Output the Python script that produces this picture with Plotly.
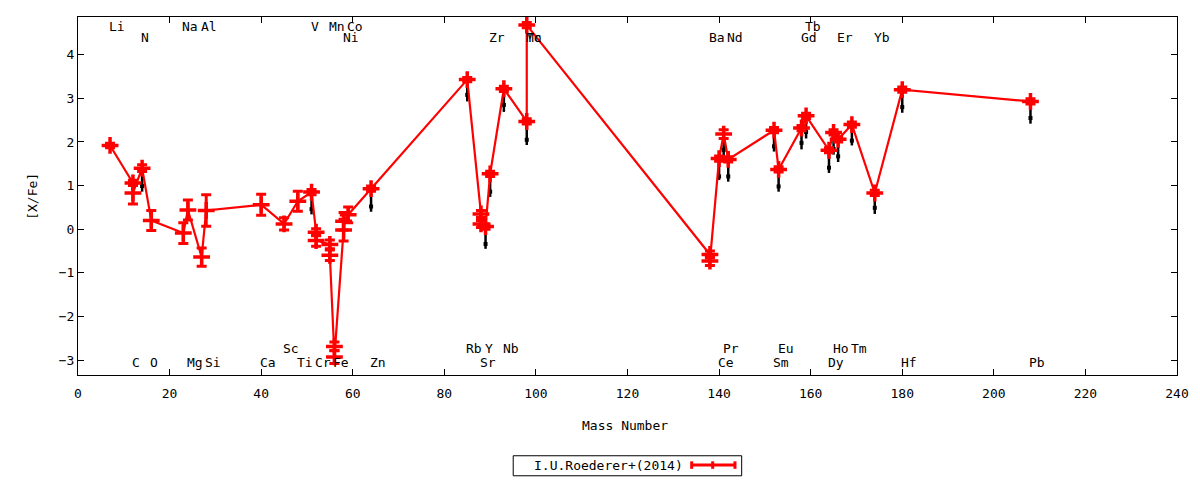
import plotly.graph_objects as go

font_family = 'DejaVu Sans Mono'
font_size = 13

# red series: I.U.Roederer+(2014)
red_element = ['Li', 'C', 'C', 'N', 'O', 'Na', 'Mg', 'Al', 'Si', 'Ca', 'Sc', 'Ti', 'V',
               'Cr', 'Cr', 'Mn', 'Mn', 'Fe', 'Fe', 'Ni', 'Ni', 'Co', 'Zn',
               'Rb', 'Sr', 'Sr', 'Y', 'Zr', 'Nb', 'Mo', 'Tc',
               'Ba', 'Ba', 'Ce', 'Pr', 'Nd', 'Sm', 'Eu', 'Gd', 'Tb', 'Dy', 'Ho', 'Er', 'Tm',
               'Yb', 'Hf', 'Pb']
red_mass = [7, 12, 12, 14, 16, 23, 24, 27, 28, 40, 45, 48, 51,
            52, 52, 55, 55, 56, 56, 58, 58, 59, 64,
            85, 88, 88, 89, 90, 93, 98, 98,
            138, 138, 140, 141, 142, 152, 153, 158, 159, 164, 165, 166, 169,
            174, 180, 208]
red_value = [1.92, 1.06, 0.83, 1.40, 0.20, -0.09, 0.44, -0.64, 0.43, 0.56, 0.12, 0.64, 0.85,
             -0.07, -0.26, -0.35, -0.60, -2.69, -2.93, -0.02, 0.18, 0.33, 0.93,
             3.43, 0.35, 0.12, 0.06, 1.27, 3.22, 2.47, 4.68,
             -0.58, -0.73, 1.62, 2.18, 1.60, 2.27, 1.37, 2.32, 2.60, 1.81, 2.22, 2.06, 2.40,
             0.83, 3.20, 2.93]
red_error = [0.05, 0.06, 0.25, 0.08, 0.23, 0.24, 0.23, 0.21, 0.36, 0.24, 0.14, 0.23, 0.06,
             0.08, 0.13, 0.10, 0.12, 0.10, 0.15, 0.25, 0.20, 0.18, 0.06,
             0.05, 0.08, 0.08, 0.06, 0.06, 0.06, 0.06, 0.06,
             0.08, 0.10, 0.06, 0.10, 0.06, 0.06, 0.06, 0.06, 0.06, 0.06, 0.06, 0.06, 0.06,
             0.06, 0.06, 0.06]

# black series (no key entry)
black_mass = [14, 51, 64, 85, 89, 90, 93, 98, 140, 141, 142, 152, 153,
              158, 159, 164, 165, 166, 169, 174, 180, 208]
black_value = [0.99, 0.46, 0.52, 3.08, -0.34, 0.86, 2.85, 2.05, 1.21, 1.82, 1.21, 1.90, 0.98,
               1.98, 2.23, 1.41, 1.84, 1.67, 2.03, 0.49, 2.80, 2.55]
black_low = [0.86, 0.34, 0.40, 2.93, -0.45, 0.74, 2.69, 1.93, 1.13, 1.66, 1.09, 1.78, 0.86,
             1.83, 2.08, 1.29, 1.71, 1.54, 1.92, 0.35, 2.67, 2.42]
black_high = [1.30, 0.80, 0.88, 3.38, 0.02, 1.22, 3.17, 2.42, 1.57, 2.13, 1.55, 2.22, 1.32,
              2.27, 2.55, 1.76, 2.17, 2.01, 2.35, 0.78, 3.15, 2.88]

# element labels along top and bottom of the frame
top_row1 = [('Li', 7), ('Na', 23), ('Al', 27), ('V', 51), ('Mn', 55), ('Co', 59), ('Tb', 159)]
top_row2 = [('N', 14), ('Ni', 58), ('Zr', 90), ('Mo', 98), ('Tc', 98), ('Ba', 138), ('Nd', 142),
            ('Gd', 158), ('Er', 166), ('Yb', 174)]
bottom_row1 = [('Sc', 45), ('Rb', 85), ('Y', 89), ('Nb', 93), ('Pr', 141), ('Eu', 153),
               ('Ho', 165), ('Tm', 169)]
bottom_row2 = [('C', 12), ('O', 16), ('Mg', 24), ('Si', 28), ('Ca', 40), ('Ti', 48), ('Cr', 52),
               ('Fe', 56), ('Zn', 64), ('Sr', 88), ('Ce', 140), ('Sm', 152), ('Dy', 164),
               ('Hf', 180), ('Pb', 208)]

x_range = [0, 240]
y_range = [-3.344, 4.866]

fig = go.Figure()

fig.add_trace(go.Scatter(
    x=black_mass, y=black_value,
    mode='markers',
    marker=dict(symbol='square', size=4, color='black'),
    error_y=dict(type='data', symmetric=False,
                 array=[h - v for h, v in zip(black_high, black_value)],
                 arrayminus=[v - l for v, l in zip(black_value, black_low)],
                 color='black', thickness=2.5, width=0),
    showlegend=False,
    hoverinfo='skip',
))

fig.add_trace(go.Scatter(
    x=red_mass, y=red_value,
    text=red_element,
    mode='lines+markers',
    name='I.U.Roederer+(2014)',
    line=dict(color='red', width=2.2),
    marker=dict(symbol='cross-thin', size=12, color='red', line=dict(color='red', width=3.5)),
    error_y=dict(type='data', array=red_error, color='red', thickness=3, width=5),
    showlegend=False,
))

label_rows = [(top_row1, 4.643), (top_row2, 4.39), (bottom_row1, -2.746), (bottom_row2, -3.068)]
for row, y_pos in label_rows:
    for name, mass in row:
        fig.add_annotation(
            x=mass, y=y_pos, xref='x', yref='y',
            text=name, showarrow=False,
            xanchor='left', yanchor='middle', xshift=-3,
            font=dict(family=font_family, size=font_size, color='black'),
        )

# axis titles placed like gnuplot does
fig.add_annotation(text='Mass Number', xref='paper', yref='paper', x=0.4977, y=-0.14,
                   showarrow=False, xanchor='center', yanchor='middle',
                   font=dict(family=font_family, size=font_size, color='black'))
fig.add_annotation(text='[X/Fe]', xref='paper', yref='paper', x=-0.042, y=0.5,
                   showarrow=False, xanchor='center', yanchor='middle', textangle=-90,
                   font=dict(family=font_family, size=font_size, color='black'))

# key box (text first, then line sample, gnuplot style)
key_y = -0.2516
fig.add_shape(type='rect', xref='paper', yref='paper', x0=0.3960, x1=0.6039, y0=-0.2815, y1=-0.2256,
              line=dict(color='black', width=1), fillcolor='white')
fig.add_annotation(text='I.U.Roederer+(2014)', xref='paper', yref='paper', x=0.4133, y=key_y,
                   showarrow=False, xanchor='left', yanchor='middle',
                   font=dict(family=font_family, size=font_size, color='black'))
fig.add_shape(type='line', xref='paper', yref='paper', x0=0.5584, x1=0.5978, y0=key_y, y1=key_y,
              line=dict(color='red', width=3))
for cap_x in [0.5584, 0.5775, 0.5978]:
    fig.add_shape(type='line', xref='paper', yref='paper', x0=cap_x, x1=cap_x,
                  y0=key_y - 0.0105, y1=key_y + 0.0105, line=dict(color='red', width=3))

axis_style = dict(
    showgrid=False, zeroline=False,
    showline=True, linecolor='black', linewidth=1, mirror='allticks',
    ticks='inside', ticklen=6, tickcolor='black', tickwidth=1,
    tickfont=dict(family=font_family, size=font_size, color='black'),
)

fig.update_xaxes(range=x_range, dtick=20, tick0=0, ticklabelstandoff=6, **axis_style)
fig.update_yaxes(range=y_range, dtick=1, tick0=0, ticklabelstandoff=0, **axis_style)

fig.update_layout(
    width=1200, height=480,
    margin=dict(l=78, r=23, t=17, b=105, pad=0),
    plot_bgcolor='white', paper_bgcolor='white',
    showlegend=False,
    font=dict(family=font_family, size=font_size, color='black'),
)

# drop the page's default body margin so the 1200x480 figure sits at the window origin
fig.write_html("out.html", config={'displayModeBar': False},
               post_script="document.body.style.margin='0px';")
